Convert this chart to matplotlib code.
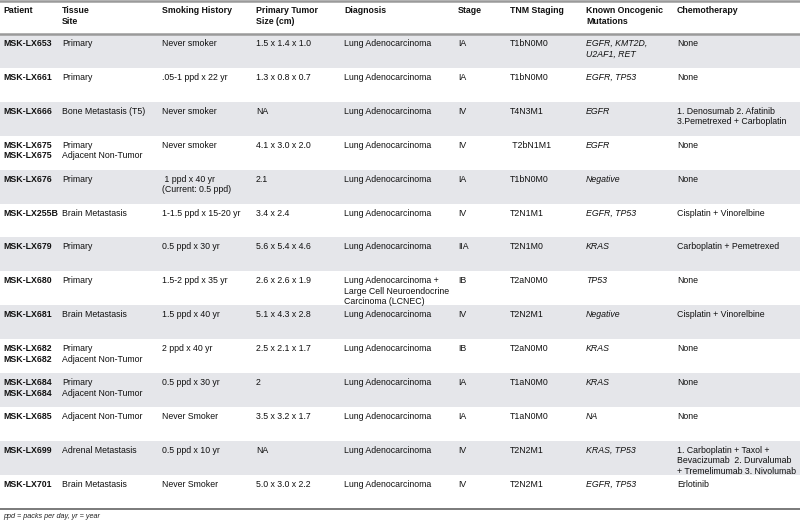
import matplotlib.pyplot as plt
from matplotlib.patches import Rectangle

plt.rcParams['font.family'] = ['Liberation Sans', 'DejaVu Sans']

# ── Table content ────────────────────────────────────────────────────────────

headers = ["Patient", "Tissue\nSite", "Smoking History", "Primary Tumor\nSize (cm)",
           "Diagnosis", "Stage", "TNM Staging", "Known Oncogenic\nMutations", "Chemotherapy"]

patients = ["MSK-LX653", "MSK-LX661", "MSK-LX666", "MSK-LX675\nMSK-LX675", "MSK-LX676",
            "MSK-LX255B", "MSK-LX679", "MSK-LX680", "MSK-LX681", "MSK-LX682\nMSK-LX682",
            "MSK-LX684\nMSK-LX684", "MSK-LX685", "MSK-LX699", "MSK-LX701"]

tissue_sites = ["Primary", "Primary", "Bone Metastasis (T5)", "Primary\nAdjacent Non-Tumor",
                "Primary", "Brain Metastasis", "Primary", "Primary", "Brain Metastasis",
                "Primary\nAdjacent Non-Tumor", "Primary\nAdjacent Non-Tumor",
                "Adjacent Non-Tumor", "Adrenal Metastasis", "Brain Metastasis"]

smoking = ["Never smoker", ".05-1 ppd x 22 yr", "Never smoker", "Never smoker",
           " 1 ppd x 40 yr\n(Current: 0.5 ppd)", "1-1.5 ppd x 15-20 yr", "0.5 ppd x 30 yr",
           "1.5-2 ppd x 35 yr", "1.5 ppd x 40 yr", "2 ppd x 40 yr", "0.5 ppd x 30 yr",
           "Never Smoker", "0.5 ppd x 10 yr", "Never Smoker"]

tumor_size = ["1.5 x 1.4 x 1.0", "1.3 x 0.8 x 0.7", "NA", "4.1 x 3.0 x 2.0", "2.1",
              "3.4 x 2.4", "5.6 x 5.4 x 4.6", "2.6 x 2.6 x 1.9", "5.1 x 4.3 x 2.8",
              "2.5 x 2.1 x 1.7", "2", "3.5 x 3.2 x 1.7", "NA", "5.0 x 3.0 x 2.2"]

diagnosis = ["Lung Adenocarcinoma"] * 7 + [
    "Lung Adenocarcinoma +\nLarge Cell Neuroendocrine\nCarcinoma (LCNEC)"] + ["Lung Adenocarcinoma"] * 6

stage = ["IA", "IA", "IV", "IV", "IA", "IV", "IIA", "IB", "IV", "IB", "IA", "IA", "IV", "IV"]

tnm = ["T1bN0M0", "T1bN0M0", "T4N3M1", " T2bN1M1", "T1bN0M0", "T2N1M1", "T2N1M0",
       "T2aN0M0", "T2N2M1", "T2aN0M0", "T1aN0M0", "T1aN0M0", "T2N2M1", "T2N2M1"]

mutations = ["EGFR, KMT2D,\nU2AF1, RET", "EGFR, TP53", "EGFR", "EGFR", "Negative",
             "EGFR, TP53", "KRAS", "TP53", "Negative", "KRAS", "KRAS", "NA",
             "KRAS, TP53", "EGFR, TP53"]

chemo = ["None", "None", "1. Denosumab 2. Afatinib\n3.Pemetrexed + Carboplatin", "None",
         "None", "Cisplatin + Vinorelbine", "Carboplatin + Pemetrexed", "None",
         "Cisplatin + Vinorelbine", "None", "None", "None",
         "1. Carboplatin + Taxol +\nBevacizumab  2. Durvalumab\n+ Tremelimumab 3. Nivolumab",
         "Erlotinib"]

footnote = "ppd = packs per day, yr = year"

# ── Layout (pixel coordinates) ───────────────────────────────────────────────

col_x = [3, 62, 162, 256, 344, 458, 510, 586, 677]
header_line = 34
row_h = 33.9
fs = 6.3
shade = "#e5e6ea"

fig = plt.figure(figsize=(8, 5.22), dpi=100)
ax = fig.add_axes([0, 0, 1, 1])
ax.set_xlim(0, 800)
ax.set_ylim(522, 0)
ax.axis("off")

columns = [patients, tissue_sites, smoking, tumor_size, diagnosis, stage, tnm, mutations, chemo]
n_rows = len(patients)

for i in range(n_rows):
    top = header_line + i * row_h
    if i % 2 == 0:
        ax.add_patch(Rectangle((0, top), 800, row_h, color=shade, lw=0, zorder=0))
    for c, (x, col) in enumerate(zip(col_x, columns)):
        style = "italic" if c == 7 else "normal"
        weight = "bold" if c == 0 else "normal"
        ax.text(x, top + 5, col[i], fontsize=fs, va="top", ha="left",
                fontweight=weight, fontstyle=style, color="#111111", linespacing=1.22)

for x, h in zip(col_x, headers):
    ax.text(x, 6, h, fontsize=fs, va="top", ha="left", fontweight="bold",
            color="#111111", linespacing=1.22)

bottom = header_line + n_rows * row_h
ax.axhline(1, color="#9a9a9a", lw=1.8)
ax.axhline(header_line, color="#9a9a9a", lw=1.8)
ax.axhline(bottom, color="#7a7a7a", lw=1.4)

ax.text(3, 513.5, footnote, fontsize=5.2, fontstyle="italic", va="top", ha="left", color="#222222")

fig.savefig("out.png", dpi=100)
